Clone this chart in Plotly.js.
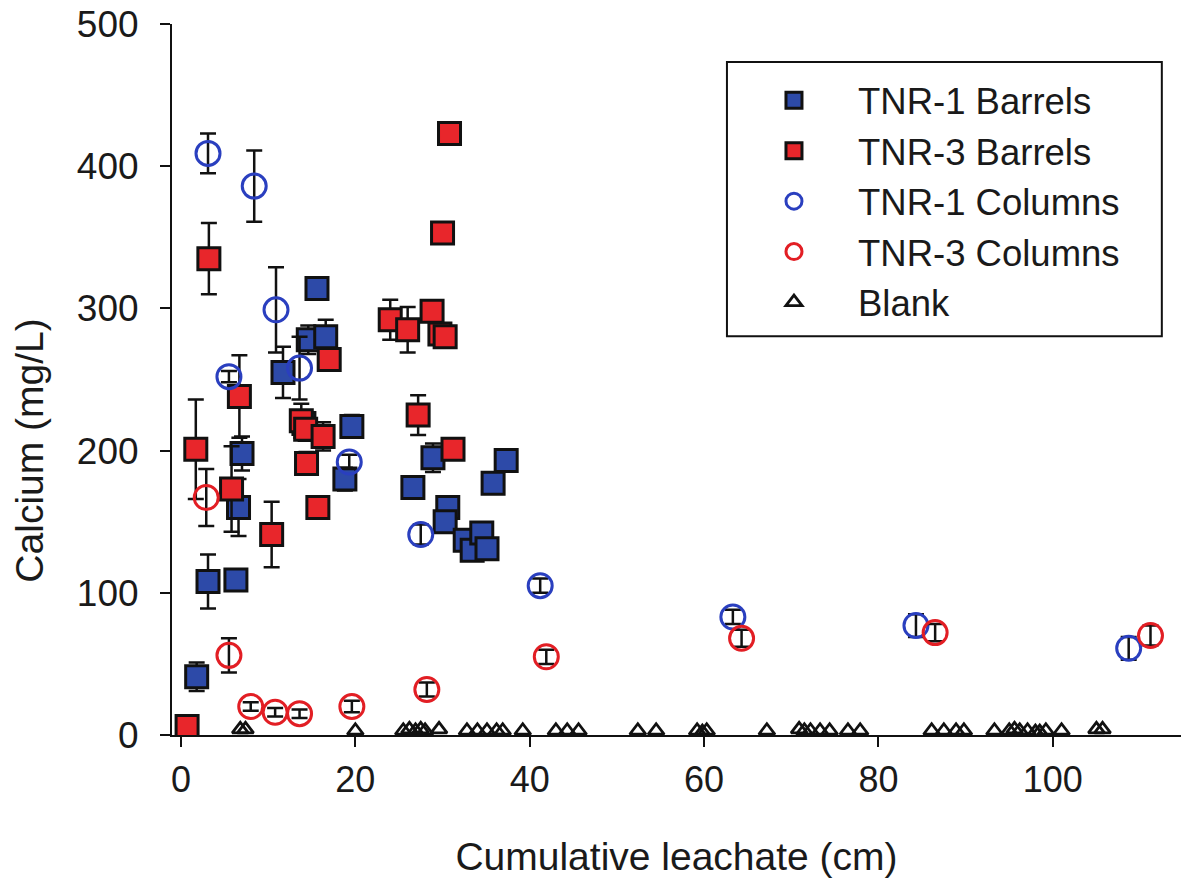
<!DOCTYPE html>
<html>
<head>
<meta charset="utf-8">
<script src="https://cdn.plot.ly/plotly-3.0.1.min.js"></script>
<style>
html,body{margin:0;padding:0;background:#fff;}
#chart{width:1181px;height:881px;}
</style>
</head>
<body>
<div id="chart"></div>
<script>
// TNR-1 Barrels
const t1bX   = [1.8, 3.1, 6.3, 6.6, 7.0, 11.7, 14.6, 15.6, 16.6, 14.1, 19.6, 18.8, 26.6, 28.9, 30.6, 30.3, 32.6, 33.4, 34.5, 35.1, 35.8, 37.3];
const t1bY   = [41, 108, 109, 160, 198, 255, 278, 314, 280, 219, 217, 180, 174, 195, 160, 150, 137, 130, 142, 131, 177, 193];
const t1bErr = [10, 19, 3, 20, 12, 18, 10, 3, 12, 8, 8, 8, 3, 10, 3, 3, 3, 3, 3, 3, 3, 3];
// TNR-3 Barrels
const t3bX   = [0.7, 1.7, 3.2, 5.8, 6.7, 10.4, 13.8, 14.3, 14.4, 15.7, 16.3, 17.0, 24.0, 26.0, 28.8, 29.7, 30.3, 30.0, 30.8, 27.2, 31.2];
const t3bY   = [6, 201, 335, 173, 238, 141, 221, 215, 191, 160, 210, 264, 292, 285, 298, 282, 280, 353, 423, 225, 201];
const t3bErr = [2, 35, 25, 30, 29, 23, 12, 8, 8, 4, 10, 4, 14, 16, 4, 4, 4, 3, 3, 14, 4];
// TNR-1 Columns
const t1cX   = [3.1, 8.4, 10.9, 5.5, 13.6, 19.3, 27.5, 41.2, 63.3, 84.3, 108.7];
const t1cY   = [409, 386, 299, 252, 258, 192, 141, 105, 83, 77, 61];
const t1cErr = [14, 25, 30, 4, 22, 5, 7, 5, 5, 8, 8];
// TNR-3 Columns
const t3cX   = [2.9, 5.5, 8.0, 10.8, 13.6, 19.6, 28.2, 41.9, 64.3, 86.5, 111.2];
const t3cY   = [167, 56, 20, 16, 15, 20, 32, 55, 68, 72, 70];
const t3cErr = [20, 12, 3, 3, 3, 4, 5, 5, 6, 6, 7];
// Blank
const blankX = [6.8, 7.4, 20.0, 25.5, 26.2, 26.9, 27.5, 28.0, 29.6, 32.8, 34.0, 35.1, 36.2, 36.9, 39.2, 43.0, 44.3, 45.6, 52.4, 54.5, 59.2, 59.8, 60.3, 67.2, 70.9, 71.5, 72.2, 73.3, 74.4, 76.5, 77.9, 86.1, 87.5, 88.9, 89.8, 93.3, 95.0, 95.6, 96.2, 97.1, 98.0, 98.5, 99.2, 101.0, 105.0, 105.7];
const blankY = [4, 4, 3, 3, 4, 3, 4, 3, 4, 3, 3, 3, 3, 3, 3, 3, 3, 3, 3, 3, 3, 2, 3, 3, 4, 3, 3, 3, 3, 3, 3, 3, 3, 3, 3, 3, 3, 4, 3, 3, 2, 2, 3, 3, 4, 4];

const FONT = "Liberation Sans, Arial, sans-serif";
const TXT = "#1a1a1a";

function errY(arr){ return {type:'data', array:arr, visible:true, color:'#111', thickness:2.5, width:8}; }

const traces = [
  {x:t1bX, y:t1bY, error_y:errY(t1bErr), name:'TNR-1 Barrels', type:'scatter', mode:'markers',
   marker:{symbol:'square', size:22, color:'#2d4aa8', line:{color:'#111', width:3}}},
  {x:t3bX, y:t3bY, error_y:errY(t3bErr), name:'TNR-3 Barrels', type:'scatter', mode:'markers',
   marker:{symbol:'square', size:22, color:'#e8262b', line:{color:'#111', width:3}}},
  {x:t1cX, y:t1cY, error_y:errY(t1cErr), name:'TNR-1 Columns', type:'scatter', mode:'markers',
   marker:{symbol:'circle-open', size:24, color:'#2a3fbf', line:{color:'#2a3fbf', width:3}}},
  {x:t3cX, y:t3cY, error_y:errY(t3cErr), name:'TNR-3 Columns', type:'scatter', mode:'markers',
   marker:{symbol:'circle-open', size:24, color:'#e21e24', line:{color:'#e21e24', width:3}}},
  {x:blankX, y:blankY, name:'Blank', type:'scatter', mode:'markers',
   marker:{symbol:'triangle-up-open', size:14, color:'#111', line:{color:'#111', width:2.8}}}
];

const layout = {
  width:1181, height:881,
  margin:{l:172, r:0, t:24, b:146},
  paper_bgcolor:'#fff', plot_bgcolor:'#fff',
  font:{family:FONT, color:TXT, size:37},
  showlegend:true,
  legend:{x:0.553, y:0.9353, xanchor:'left', yanchor:'top', bgcolor:'rgba(0,0,0,0)', borderwidth:0,
          font:{family:FONT, size:36.5, color:TXT}, tracegroupgap:0, itemwidth:118},
  shapes:[{type:'rect', xref:'paper', yref:'paper', x0:0.550, x1:0.981, y0:0.561, y1:0.9466,
           line:{color:'#111', width:2}, fillcolor:'rgba(0,0,0,0)', layer:'above'}],
  annotations:[{text:'Calcium (mg/L)', xref:'paper', yref:'paper', x:-0.1407, y:0.40, xanchor:'center', yanchor:'middle',
                textangle:-90, showarrow:false, font:{family:FONT, size:39, color:TXT}}],
  xaxis:{range:[-1.03, 114.7], tickvals:[0,20,40,60,80,100], ticks:'outside', ticklen:10, tickwidth:2, tickcolor:'#111',
         showline:true, linecolor:'#111', linewidth:2, showgrid:false, zeroline:false,
         tickfont:{family:FONT, size:36, color:TXT}, ticklabelstandoff:2,
         title:{text:'Cumulative leachate (cm)', font:{family:FONT, size:39, color:TXT}, standoff:43}},
  yaxis:{range:[0,500], tickvals:[0,100,200,300,400,500], ticks:'outside', ticklen:10, tickwidth:2, tickcolor:'#111',
         showline:true, linecolor:'#111', linewidth:2, showgrid:false, zeroline:false,
         tickfont:{family:FONT, size:37, color:TXT}, ticklabelstandoff:14}
};

Plotly.newPlot('chart', traces, layout, {displayModeBar:false, staticPlot:true});
</script>
</body>
</html>
